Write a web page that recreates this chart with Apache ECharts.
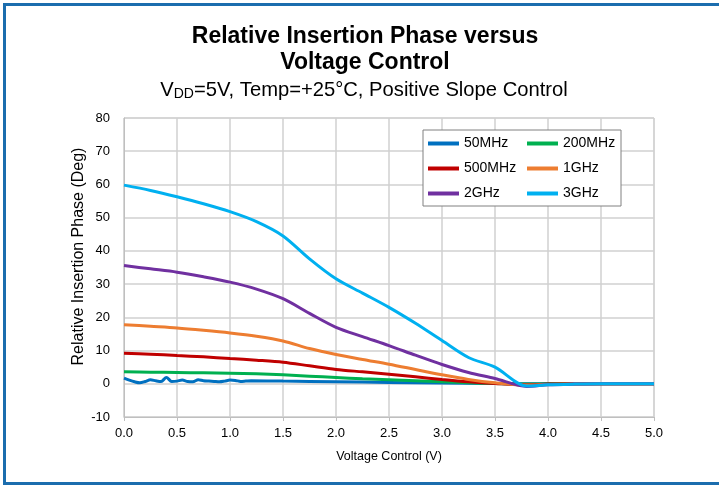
<!DOCTYPE html>
<html>
<head>
<meta charset="utf-8">
<script src="https://cdn.jsdelivr.net/npm/echarts@6/dist/echarts.min.js"></script>
<style>
html,body{margin:0;padding:0;background:#fff;overflow:hidden;}
#wrap{position:relative;width:719px;height:487px;overflow:hidden;}
#chart{position:absolute;left:0;top:0;width:719px;height:487px;}
.bar{position:absolute;background:#1B6DAE;pointer-events:none;}
</style>
</head>
<body>
<div id="wrap"><div id="chart"></div>
<div class="bar" style="left:3px;top:3px;width:716px;height:3px;"></div>
<div class="bar" style="left:3px;top:3px;width:3px;height:482px;"></div>
<div class="bar" style="left:3px;top:482px;width:716px;height:3px;"></div>
</div>
<script>
// Voltage grid (V)
const voltages = [0,0.25,0.5,0.75,1,1.25,1.5,1.75,2,2.25,2.5,2.75,3,3.25,3.5,3.8,4,4.25,4.5,4.75,5];
// Relative insertion phase (deg)
const ph200M = [3.6,3.5,3.4,3.3,3.2,3.0,2.7,2.3,1.9,1.5,1.2,0.9,0.6,0.3,0.1,-0.1,0,0,0,0,0];
const ph500M = [9.2,8.9,8.5,8.1,7.6,7.1,6.5,5.4,4.3,3.6,2.9,2.1,1.3,0.6,0.1,-0.3,-0.1,0,0,0,0];
const ph1G   = [17.8,17.3,16.8,16.1,15.3,14.3,12.9,10.6,8.8,7.3,5.9,4.3,2.7,1.3,0.3,-0.4,-0.2,-0.1,0,0,0];
const ph2G   = [35.6,34.6,33.6,32.2,30.6,28.5,25.6,21.2,17.0,14.2,11.5,8.6,5.8,3.4,1.6,-0.8,-0.3,-0.1,0,0,0];
const ph3G   = [59.8,58.2,56.3,54.2,51.8,48.8,44.5,37.6,31.6,27.3,23.0,18.2,13.0,7.9,5.0,-0.7,-0.3,-0.1,0,0,0];
// 50 MHz trace measured on a finer voltage grid
const voltages50 = [0,0.05,0.1,0.15,0.2,0.25,0.3,0.35,0.4,0.45,0.5,0.55,0.6,0.65,0.7,0.75,0.8,0.85,0.9,0.95,1,1.05,1.1,1.15,1.2,1.5,2,2.5,3,3.5,4,4.5,5];
const ph50M = [1.7,1.1,0.6,0.3,0.7,1.2,0.9,0.7,1.9,0.7,0.8,1.1,0.7,0.6,1.2,0.9,0.8,0.7,0.6,0.8,1.1,1.0,0.7,0.8,0.9,0.8,0.6,0.4,0.2,0.1,0,0,0];

const seriesNames = ['50MHz','200MHz','500MHz','1GHz','2GHz','3GHz'];
const seriesColors = ['#0070C0','#00B050','#C00000','#ED7D31','#7030A0','#00B0F0'];
const seriesX = [voltages50, voltages, voltages, voltages, voltages, voltages];
const seriesY = [ph50M, ph200M, ph500M, ph1G, ph2G, ph3G];

const FONT = 'Liberation Sans, Arial, sans-serif';
const chart = echarts.init(document.getElementById('chart'), null, {renderer:'canvas'});
const series = seriesNames.map((n,i)=>({
  name:n, type:'line', showSymbol:false, symbol:'none',
  smooth:0.3,
  lineStyle:{width:3, color:seriesColors[i]},
  itemStyle:{color:seriesColors[i]},
  data: seriesX[i].map((x,k)=>[x, seriesY[i][k]])
}));

chart.setOption({
  animation:false,
  backgroundColor:'#fff',
  title:[
    {text:'Relative Insertion Phase versus\nVoltage Control', left:365, textAlign:'center', top:24, padding:0,
     textStyle:{fontFamily:FONT, fontSize:23, fontWeight:'bold', color:'#000', lineHeight:26}},
    {text:'V{sub|DD}=5V, Temp=+25°C, Positive Slope Control', left:364, textAlign:'center', top:79, padding:0,
     textStyle:{fontFamily:FONT, fontSize:20.2, fontWeight:'normal', color:'#000', lineHeight:22,
       rich:{sub:{fontFamily:FONT, fontSize:14, verticalAlign:'bottom', lineHeight:22, padding:[9,0,0,0], color:'#000'}}}}
  ],
  legend:{
    left:423, top:130, width:190, orient:'horizontal',
    padding:[6,5,5,5], itemGap:10,
    backgroundColor:'#fff', borderColor:'#808080', borderWidth:1,
    icon:'rect', itemWidth:31, itemHeight:4,
    textStyle:{fontFamily:FONT, fontSize:14, color:'#000', width:53, lineHeight:15},
    data:seriesNames
  },
  grid:{left:124, right:65, top:118, bottom:70, containLabel:false,
        show:true, borderColor:'#d0d0d0', borderWidth:1},
  xAxis:{
    type:'value', min:0, max:5, interval:0.5,
    name:'Voltage Control (V)', nameLocation:'middle', nameGap:33, nameMoveOverlap:false,
    nameTextStyle:{fontFamily:FONT, fontSize:12.5, color:'#000'},
    axisLine:{onZero:false, lineStyle:{color:'#bfbfbf'}},
    axisTick:{show:true, length:4, lineStyle:{color:'#bfbfbf'}},
    axisLabel:{fontFamily:FONT, fontSize:13, color:'#000', margin:10, formatter:v=>v.toFixed(1)},
    splitLine:{show:true, lineStyle:{color:'#d0d0d0', width:1.5}}
  },
  yAxis:{
    type:'value', min:-10, max:80, interval:10,
    name:'Relative Insertion Phase (Deg)', nameLocation:'middle', nameGap:37, nameMoveOverlap:false,
    nameTextStyle:{fontFamily:FONT, fontSize:16, color:'#000', padding:[0,0,0,22]},
    axisLine:{show:true, lineStyle:{color:'#bfbfbf'}},
    axisTick:{show:false},
    axisLabel:{fontFamily:FONT, fontSize:13, color:'#000', margin:14},
    splitLine:{show:true, lineStyle:{color:'#d0d0d0', width:1.5}}
  },
  series:series
});
</script>
</body>
</html>
